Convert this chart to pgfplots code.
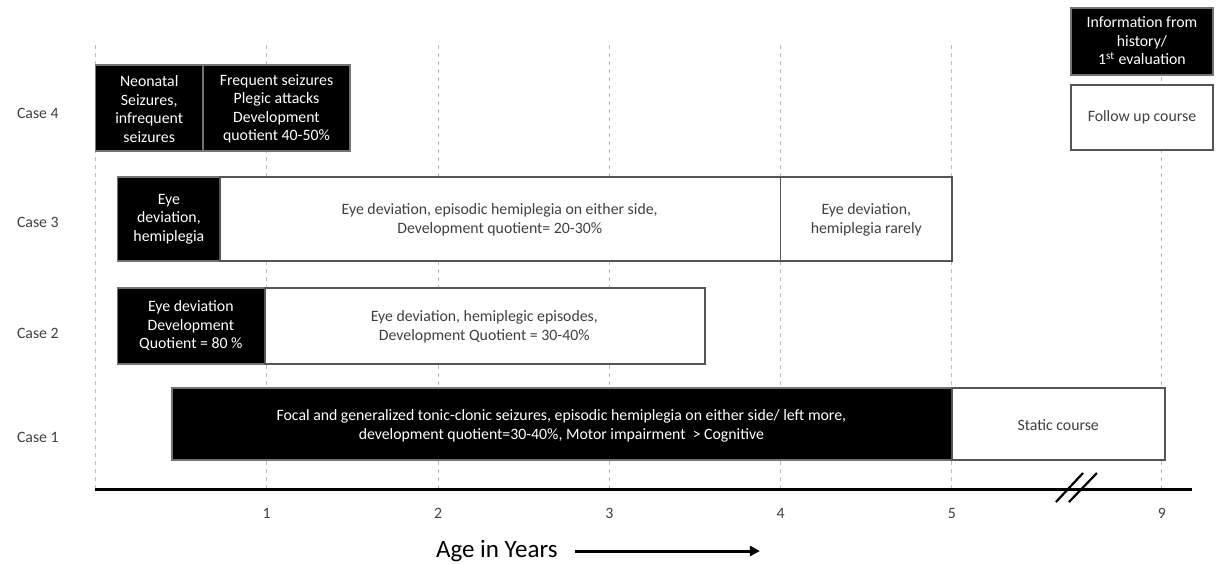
\documentclass[border=0pt]{standalone}
\usepackage{pgfplots}
\pgfplotsset{compat=1.18}
\usepackage{fontspec}
\setmainfont{Carlito}
\usetikzlibrary{arrows.meta}
\definecolor{txt}{HTML}{404040}
\definecolor{edge}{HTML}{555555}
\definecolor{guide}{HTML}{BDBDBD}
\begin{document}
\begin{tikzpicture}[font=\fontsize{7.9}{9.25}\selectfont, every node/.append style={align=center}]
\begin{axis}[
  scale only axis, width=612pt, height=281.5pt,
  xmin=-0.557, xmax=6.588, ymin=-74, ymax=489,
  hide axis, clip=false,
  blk/.style={fill=black, draw=black!55, line width=0.6pt},
  wht/.style={fill=white, draw=edge, line width=0.7pt},
]
% dashed year guides (9 years sits at 6.226 after the break)
\foreach \g in {0,1,2,3,4,5,6.226}{
  \edef\tmp{\noexpand\addplot[guide, line width=0.5pt, dash pattern=on 2pt off 2pt] coordinates {(\g,0) (\g,444)};}
  \tmp
}
% Case 4
\addplot[blk] coordinates {(0,338) (0.628,338) (0.628,424) (0,424)} --cycle;
\addplot[blk] coordinates {(0.628,338) (1.486,338) (1.486,424) (0.628,424)} --cycle;
% Case 3
\addplot[blk] coordinates {(0.131,228) (0.727,228) (0.727,312) (0.131,312)} --cycle;
\addplot[wht] coordinates {(0.727,228) (4.0,228) (4.0,312) (0.727,312)} --cycle;
\addplot[wht] coordinates {(4.0,228) (5.0,228) (5.0,312) (4.0,312)} --cycle;
% Case 2
\addplot[blk] coordinates {(0.131,125) (0.989,125) (0.989,201) (0.131,201)} --cycle;
\addplot[wht] coordinates {(0.989,125) (3.558,125) (3.558,201) (0.989,201)} --cycle;
% Case 1
\addplot[blk] coordinates {(0.447,29) (5.0,29) (5.0,101) (0.447,101)} --cycle;
\addplot[wht] coordinates {(5.0,29) (6.243,29) (6.243,101) (5.0,101)} --cycle;
% key
\addplot[blk] coordinates {(5.695,414) (6.524,414) (6.524,481) (5.695,481)} --cycle;
\addplot[wht] coordinates {(5.695,339) (6.524,339) (6.524,404) (5.695,404)} --cycle;
% time axis with break
\addplot[black, line width=1.5pt] coordinates {(0,0) (6.401,0)};
\addplot[black, line width=1.1pt] coordinates {(5.607,-13) (5.765,16)};
\addplot[black, line width=1.1pt] coordinates {(5.683,-13) (5.846,16)};
\addplot[black, line width=1.5pt, -{Triangle[length=5pt,width=5pt]}] coordinates {(2.799,-62) (3.879,-62)};

% texts
\node[text=txt] at (axis cs:-0.336,376) {Case 4};
\node[text=txt] at (axis cs:-0.336,267) {Case 3};
\node[text=txt] at (axis cs:-0.336,156) {Case 2};
\node[text=txt] at (axis cs:-0.336,52) {Case 1};

\node[text=white] at (axis cs:0.314,380) {Neonatal\\Seizures,\\infrequent\\seizures};
\node[text=white] at (axis cs:1.057,380) {Frequent seizures\\Plegic attacks\\Development\\quotient 40-50\%};
\node[text=white] at (axis cs:0.429,270) {Eye\\deviation,\\hemiplegia};
\node[text=txt] at (axis cs:2.36,269) {Eye deviation, episodic hemiplegia on either side,\\Development quotient= 20-30\%};
\node[text=txt] at (axis cs:4.5,269) {Eye deviation,\\hemiplegia rarely};
\node[text=white] at (axis cs:0.557,163) {Eye deviation\\Development\\Quotient = 80 \%};
\node[text=txt] at (axis cs:2.27,162) {Eye deviation, hemiplegic episodes,\\Development Quotient = 30-40\%};
\node[text=white] at (axis cs:2.72,63) {Focal and generalized tonic-clonic seizures, episodic hemiplegia on either side/ left more,\\development quotient=30-40\%, Motor impairment\ \ > Cognitive};
\node[text=txt] at (axis cs:5.62,64) {Static course};
\node[text=white] at (axis cs:6.109,448) {Information from\\history/\\1\textsuperscript{st} evaluation};
\node[text=txt] at (axis cs:6.109,372) {Follow up course};

\foreach \t/\l in {1/1,2/2,3/3,4/4,5/5,6.226/9}{
  \edef\tmp{\noexpand\node[text=txt] at (axis cs:\t,-24) {\l};}
  \tmp
}
\node[text=black, font=\fontsize{12.5}{14}\selectfont] at (axis cs:2.343,-62) {Age in Years};
\end{axis}
\pgfresetboundingbox
\path (current axis.south west) rectangle (current axis.north east);
\end{tikzpicture}
\end{document}
